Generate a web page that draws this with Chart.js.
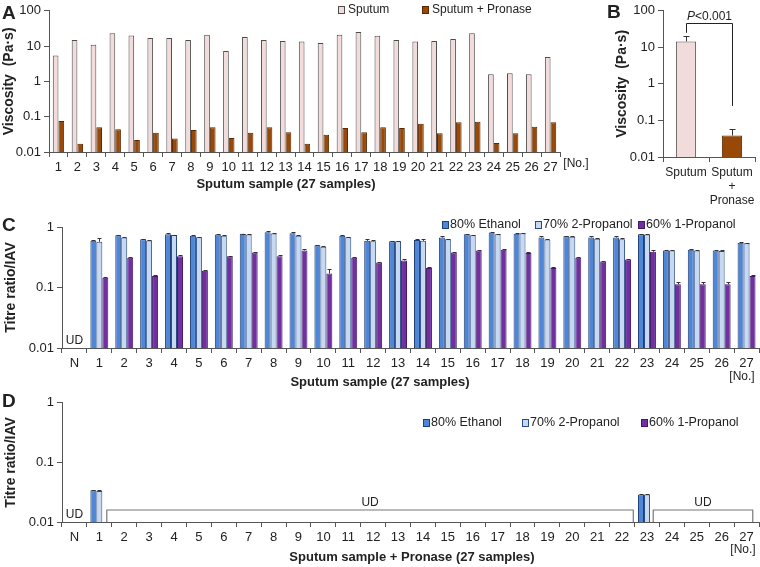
<!DOCTYPE html>
<html>
<head>
<meta charset="utf-8">
<script src="https://cdn.jsdelivr.net/npm/chart.js@4.4.1/dist/chart.umd.min.js"></script>
<style>
  body { margin: 0; width: 760px; height: 567px; position: relative; background: #fff; overflow: hidden; }
  canvas { position: absolute; }
</style>
</head>
<body>
<canvas id="chartA" width="590" height="200" style="left:0;top:0"></canvas>
<canvas id="chartB" width="155" height="210" style="left:605px;top:0"></canvas>
<canvas id="chartC" width="760" height="187" style="left:0;top:205px"></canvas>
<canvas id="chartD" width="760" height="175" style="left:0;top:392px"></canvas>
<script>
'use strict';

// ---- data ----
var samples = ['1','2','3','4','5','6','7','8','9','10','11','12','13','14','15','16','17','18','19','20','21','22','23','24','25','26','27'];
var samplesN = ['N','1','2','3','4','5','6','7','8','9','10','11','12','13','14','15','16','17','18','19','20','21','22','23','24','25','26','27'];

var decadesAB = [0.01, 0.1, 1, 10, 100];
var decadesCD = [0.01, 0.1, 1];

// A: viscosity (Pa·s)
var sputumVisc  = [5.4, 15, 11, 23, 20, 17, 17, 15, 21, 7.3, 18, 15, 14, 13.5, 12.3, 21, 25, 19.5, 15, 13.5, 14, 16, 23, 1.6, 1.7, 1.6, 4.9];
var pronaseVisc = [0.076, 0.017, 0.05, 0.044, 0.022, 0.035, 0.024, 0.042, 0.05, 0.025, 0.035, 0.05, 0.036, 0.017, 0.031, 0.048, 0.036, 0.05, 0.048, 0.063, 0.034, 0.07, 0.072, 0.018, 0.034, 0.052, 0.07];

// B: mean viscosity + upper error
var groupLabels = ['Sputum', ['Sputum', '+', 'Pronase']];
var groupMeans  = [14.5, 0.039];
var groupErrs   = [6.5, 0.02];

// C: titre ratio, sputum
var ethanolC = [null, 0.59, 0.73, 0.63, 0.76, 0.72, 0.75, 0.77, 0.82, 0.79, 0.50, 0.72, 0.59, 0.58, 0.61, 0.67, 0.76, 0.81, 0.77, 0.67, 0.70, 0.67, 0.67, 0.76, 0.41, 0.42, 0.41, 0.55];
var prop2C   = [null, 0.57, 0.67, 0.60, 0.74, 0.68, 0.72, 0.75, 0.78, 0.72, 0.47, 0.68, 0.58, 0.58, 0.59, 0.63, 0.73, 0.76, 0.79, 0.62, 0.69, 0.64, 0.63, 0.75, 0.41, 0.41, 0.40, 0.54];
var prop1C   = [null, 0.145, 0.31, 0.155, 0.33, 0.19, 0.33, 0.38, 0.33, 0.41, 0.17, 0.31, 0.26, 0.28, 0.21, 0.38, 0.41, 0.42, 0.37, 0.21, 0.31, 0.27, 0.29, 0.39, 0.113, 0.113, 0.113, 0.155];
var ethErrC  = [null, 0.02, 0.02, 0.01, 0.04, 0.01, 0.01, 0.01, 0.03, 0.04, 0.01, 0.01, 0.04, 0.01, 0.03, 0.03, 0.01, 0.01, 0.02, 0.03, 0.01, 0.03, 0.04, 0.02, 0.01, 0.01, 0.01, 0.01];
var p2ErrC   = [null, 0.08, 0.01, 0.01, 0.01, 0.01, 0.02, 0.01, 0.02, 0.01, 0.01, 0.01, 0.02, 0.01, 0.05, 0.01, 0.01, 0.01, 0.01, 0.01, 0.01, 0.02, 0.04, 0.01, 0.01, 0.01, 0.01, 0.01];
var p1ErrC   = [null, 0.006, 0.005, 0.004, 0.01, 0.006, 0.005, 0.01, 0.01, 0.02, 0.03, 0.005, 0.005, 0.02, 0.01, 0.005, 0.01, 0.02, 0.02, 0.005, 0.01, 0.005, 0.01, 0.02, 0.012, 0.012, 0.012, 0.008];

// D: titre ratio, sputum + pronase (UD = undetectable)
var ethanolD = [null, 0.034, null, null, null, null, null, null, null, null, null, null, null, null, null, null, null, null, null, null, null, null, null, 0.029, null, null, null, null];
var prop2D   = [null, 0.033, null, null, null, null, null, null, null, null, null, null, null, null, null, null, null, null, null, null, null, null, null, 0.029, null, null, null, null];
var prop1D   = [null, null, null, null, null, null, null, null, null, null, null, null, null, null, null, null, null, null, null, null, null, null, null, null, null, null, null, null];
var errD     = [null, 0.001, null, null, null, null, null, null, null, null, null, null, null, null, null, null, null, null, null, null, null, null, null, 0.001, null, null, null, null];
var udGroups = [[2, 22], [24, 27]];

// ---- style ----
var colors = {
  pink      : '#f2dcdb',
  pinkLine  : '#4d4d4d',
  brown     : '#984807',
  brownLine : '#5a2904',
  blue      : '#4f86d6',
  blueLine  : '#1f3f7a',
  light     : '#c6d9f1',
  lightLine : '#2a4a86',
  purple    : '#7030a0',
  purpleLine: '#44186a',
  axis      : '#555',
  text      : '#222'
};
var fontFamily = "'Liberation Sans', Arial, Helvetica, sans-serif";

Chart.defaults.font.family = fontFamily;
Chart.defaults.font.size = 13;
Chart.defaults.color = colors.text;

function logAxis(ticks, title, width, titleShift) {
  return {
    type: 'logarithmic',
    min: ticks[0],
    max: ticks[ticks.length - 1],
    afterBuildTicks: function(s) { s.ticks = ticks.map(function(v) { return { value: v }; }); },
    afterFit: function(s) { s.width = width; },
    ticks: { callback: function(v) { return String(v); }, padding: 3 },
    grid: { drawOnChartArea: false, tickLength: 5, color: colors.axis },
    border: { color: colors.axis },
    title: { display: true, text: title, font: { size: 14, weight: 'bold' }, padding: { top: titleShift || 0, bottom: 2 } }
  };
}

function catAxis(height, size) {
  return {
    afterFit: function(s) { s.height = height; },
    ticks: { autoSkip: false, maxRotation: 0, padding: 3, font: { size: size || 13 } },
    grid: { offset: true, drawOnChartArea: false, tickLength: 5, color: colors.axis },
    border: { color: colors.axis }
  };
}

function txt(ctx, s, x, y, font, align, base) {
  ctx.font = font;
  ctx.textAlign = align || 'center';
  ctx.textBaseline = base || 'middle';
  ctx.fillStyle = colors.text;
  ctx.fillText(s, x, y);
}

// letters, legends, notes, error bars, brackets
function extras(cfg) {
  return {
    id: 'extras',
    afterDatasetsDraw: function(chart) {
      var ctx = chart.ctx, y = chart.scales.y;
      ctx.save();
      ctx.strokeStyle = '#333';
      ctx.lineWidth = 1;
      chart.data.datasets.forEach(function(ds, di) {
        if (!ds.errs) return;
        chart.getDatasetMeta(di).data.forEach(function(el, j) {
          var v = ds.data[j], e = ds.errs[j];
          if (v == null || !e) return;
          var top = Math.round(y.getPixelForValue(v + e)) + 0.5;
          var x = Math.round(el.x) + 0.5, cap = cfg.cap || 2;
          ctx.beginPath();
          ctx.moveTo(x, el.y); ctx.lineTo(x, top);
          ctx.moveTo(x - cap, top); ctx.lineTo(x + cap, top);
          ctx.stroke();
        });
      });
      ctx.restore();
    },
    afterDraw: function(chart) {
      var ctx = chart.ctx, xs = chart.scales.x, ys = chart.scales.y, area = chart.chartArea;
      ctx.save();
      if (cfg.letter) txt(ctx, cfg.letter[0], cfg.letter[1], cfg.letter[2], 'bold 19px ' + fontFamily, 'left', 'alphabetic');

      if (cfg.legend) {
        var ls = cfg.legend.size || 12, gap = cfg.legend.gap || 10;
        chart.data.datasets.forEach(function(ds, i) {
          var lx = cfg.legend.xs[i], ly = cfg.legend.y;
          ctx.fillStyle = ds.backgroundColor;
          ctx.fillRect(lx + 0.5, ly - 3.5, 6, 7);
          ctx.strokeStyle = ds.borderColor;
          ctx.lineWidth = 1;
          ctx.strokeRect(lx + 0.5, ly - 3.5, 6, 7);
          txt(ctx, ds.label, lx + gap, ly, ls + 'px ' + fontFamily, 'left');
        });
      }

      (cfg.notes || []).forEach(function(n) {
        txt(ctx, n.text, n.x, n.y, (n.bold ? 'bold 13px ' : '12px ') + fontFamily, 'center');
      });

      if (cfg.udAt != null) {
        txt(ctx, 'UD', xs.getPixelForValue(cfg.udAt), area.bottom - 7, '12px ' + fontFamily);
      }

      if (cfg.brackets) {
        var cw = xs.getPixelForValue(1) - xs.getPixelForValue(0);
        ctx.strokeStyle = '#777';
        ctx.lineWidth = 1.2;
        ctx.lineJoin = 'round';
        cfg.brackets.forEach(function(b) {
          var x0 = xs.getPixelForValue(b.from) - b.padL * cw;
          var x1 = xs.getPixelForValue(b.to) + b.padR * cw;
          var yb = area.bottom, yt = area.bottom - 12;
          ctx.beginPath();
          ctx.moveTo(x0, yb); ctx.lineTo(x0, yt); ctx.lineTo(x1, yt); ctx.lineTo(x1, yb);
          ctx.stroke();
          txt(ctx, 'UD', (x0 + x1) / 2, yt - 7, '12px ' + fontFamily);
        });
      }

      if (cfg.pBracket) {
        var pb = cfg.pBracket, meta = chart.getDatasetMeta(0);
        var xa = Math.round(meta.data[0].x) + 0.5, xb = Math.round(meta.data[1].x) + 0.5;
        var ytop = Math.round(ys.getPixelForValue(pb.top)) + 0.5;
        ctx.strokeStyle = '#222';
        ctx.lineWidth = 1;
        ctx.beginPath();
        ctx.moveTo(xa, ys.getPixelForValue(pb.left));
        ctx.lineTo(xa, ytop); ctx.lineTo(xb, ytop);
        ctx.lineTo(xb, ys.getPixelForValue(pb.right));
        ctx.stroke();
        ctx.font = 'italic 12px ' + fontFamily;
        var wP = ctx.measureText('P').width;
        ctx.font = '12px ' + fontFamily;
        var wR = ctx.measureText('<0.001').width;
        var sx = (xa + xb) / 2 - (wP + wR) / 2;
        txt(ctx, 'P', sx, ytop - 7, 'italic 12px ' + fontFamily, 'left');
        txt(ctx, '<0.001', sx + wP, ytop - 7, '12px ' + fontFamily, 'left');
      }
      ctx.restore();
    }
  };
}

var common = {
  responsive: false,
  animation: false,
  events: [],
  plugins: { legend: { display: false }, tooltip: { enabled: false } }
};

// A
new Chart(document.getElementById('chartA'), {
  type: 'bar',
  data: {
    labels: samples,
    datasets: [
      { label: 'Sputum', data: sputumVisc, backgroundColor: colors.pink, borderColor: colors.pinkLine, borderWidth: 1 },
      { label: 'Sputum + Pronase', data: pronaseVisc, backgroundColor: colors.brown, borderColor: colors.brownLine, borderWidth: 1 }
    ]
  },
  options: Object.assign({}, common, {
    layout: { padding: { left: 0, top: 8, right: 30, bottom: 0 } },
    datasets: { bar: { categoryPercentage: 0.6, barPercentage: 1 } },
    scales: { x: catAxis(48), y: logAxis(decadesAB, 'Viscosity  (Pa·s)', 49, 1) }
  }),
  plugins: [extras({
    letter: ['A', 2, 19],
    legend: { y: 10, xs: [338, 422], size: 12, gap: 10 },
    notes: [
      { text: '[No.]', x: 576, y: 164 },
      { text: 'Sputum sample (27 samples)', x: 286, y: 184, bold: true }
    ]
  })]
});

// B
new Chart(document.getElementById('chartB'), {
  type: 'bar',
  data: {
    labels: groupLabels,
    datasets: [{
      label: 'Viscosity', data: groupMeans, errs: groupErrs,
      backgroundColor: [colors.pink, colors.brown], borderColor: [colors.pinkLine, colors.brownLine], borderWidth: 1
    }]
  },
  options: Object.assign({}, common, {
    layout: { padding: { left: 0, top: 7, right: 5, bottom: 0 } },
    datasets: { bar: { categoryPercentage: 1, barPercentage: 0.44 } },
    scales: { x: catAxis(53, 12), y: logAxis(decadesAB, 'Viscosity  (Pa·s)', 58, 9) }
  }),
  plugins: [extras({
    letter: ['B', 2, 18],
    cap: 3,
    pBracket: { left: 25, top: 47, right: 0.25 }
  })]
});

// C
new Chart(document.getElementById('chartC'), {
  type: 'bar',
  data: {
    labels: samplesN,
    datasets: [
      { label: '80% Ethanol', data: ethanolC, errs: ethErrC, backgroundColor: colors.blue, borderColor: colors.blueLine, borderWidth: 1 },
      { label: '70% 2-Propanol', data: prop2C, errs: p2ErrC, backgroundColor: colors.light, borderColor: colors.lightLine, borderWidth: 1 },
      { label: '60% 1-Propanol', data: prop1C, errs: p1ErrC, backgroundColor: colors.purple, borderColor: colors.purpleLine, borderWidth: 1 }
    ]
  },
  options: Object.assign({}, common, {
    layout: { padding: { left: 0, top: 22, right: 1, bottom: 0 } },
    datasets: { bar: { categoryPercentage: 0.72, barPercentage: 1 } },
    scales: { x: catAxis(44), y: logAxis(decadesCD, 'Titre ratio/IAV', 62, 3) }
  }),
  plugins: [extras({
    letter: ['C', 2, 26],
    legend: { y: 20, xs: [442, 535, 638], size: 12.5, gap: 8 },
    udAt: 0,
    notes: [
      { text: '[No.]', x: 742, y: 172 },
      { text: 'Sputum sample (27 samples)', x: 380, y: 177, bold: true }
    ]
  })]
});

// D
new Chart(document.getElementById('chartD'), {
  type: 'bar',
  data: {
    labels: samplesN,
    datasets: [
      { label: '80% Ethanol', data: ethanolD, errs: errD, backgroundColor: colors.blue, borderColor: colors.blueLine, borderWidth: 1 },
      { label: '70% 2-Propanol', data: prop2D, errs: errD, backgroundColor: colors.light, borderColor: colors.lightLine, borderWidth: 1 },
      { label: '60% 1-Propanol', data: prop1D, backgroundColor: colors.purple, borderColor: colors.purpleLine, borderWidth: 1 }
    ]
  },
  options: Object.assign({}, common, {
    layout: { padding: { left: 0, top: 8, right: 1, bottom: 0 } },
    datasets: { bar: { categoryPercentage: 0.72, barPercentage: 1 } },
    scales: { x: catAxis(45), y: logAxis(decadesCD, 'Titre ratio/IAV', 62, 3) }
  }),
  plugins: [extras({
    letter: ['D', 2, 15],
    legend: { y: 31, xs: [423, 522, 641], size: 12.5, gap: 8 },
    udAt: 0,
    brackets: [
      { from: udGroups[0][0], to: udGroups[0][1], padL: 0.7, padR: 0.45 },
      { from: udGroups[1][0], to: udGroups[1][1], padL: 0.75, padR: 0.25 }
    ],
    notes: [
      { text: '[No.]', x: 743, y: 158 },
      { text: 'Sputum sample + Pronase (27 samples)', x: 412, y: 165, bold: true }
    ]
  })]
});
</script>
</body>
</html>
